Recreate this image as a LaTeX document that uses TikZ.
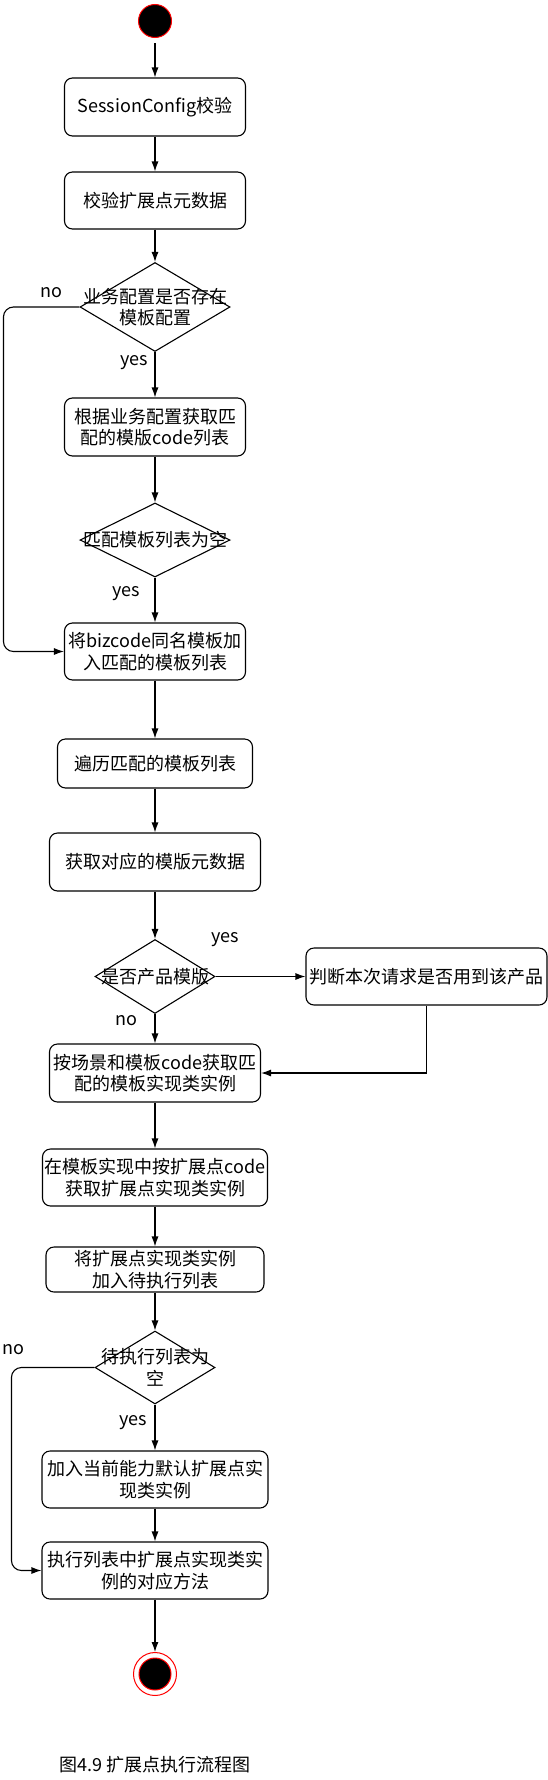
\documentclass[tikz,border=0pt]{standalone}
\usepackage{fontspec}
\setmainfont{Noto Sans CJK SC}
\usetikzlibrary{shapes.geometric,arrows.meta}
\begin{document}
\begin{tikzpicture}[x=1pt,y=1pt,
    font=\fontsize{18}{21.5}\selectfont,
    act/.style={draw, line width=1.1pt, rounded corners=8pt, align=center, inner sep=1pt, minimum height=57pt},
    dec/.style={draw, line width=1.1pt, diamond, inner sep=0pt},
    flow/.style={line width=1.1pt, -{Latex[length=10pt,width=7pt]}},
    lbl/.style={inner sep=0pt}]
  \useasboundingbox (0,0) rectangle (548,-1780);

  \node[circle, fill=black, draw=red, line width=1pt, minimum size=33pt, inner sep=0pt] (start) at (155,-21) {};
  \node[act, minimum width=181pt, minimum height=58pt] (b1) at (155,-107) {SessionConfig校验};
  \node[act, minimum width=181pt] (b2) at (155,-200.5) {校验扩展点元数据};
  \node[dec, minimum width=150pt, minimum height=89pt,
        label={[align=center]center:业务配置是否存在\\模板配置}] (d1) at (155,-307) {};
  \node[act, minimum width=181pt, minimum height=58pt] (b3) at (155,-427) {根据业务配置获取匹\\配的模版code列表};
  \node[dec, minimum width=150pt, minimum height=74pt,
        label={center:匹配模板列表为空}] (d2) at (155,-540) {};
  \node[act, minimum width=181pt] (b4) at (155,-651.5) {将bizcode同名模板加\\入匹配的模板列表};
  \node[act, minimum width=195pt, minimum height=49pt] (b5) at (155,-763.5) {遍历匹配的模板列表};
  \node[act, minimum width=211pt, minimum height=58pt] (b6) at (155,-862) {获取对应的模版元数据};
  \node[dec, minimum width=120pt, minimum height=74pt,
        label={center:是否产品模版}] (d3) at (155,-976.5) {};
  \node[act, minimum width=241pt] (r1) at (426.5,-976.5) {判断本次请求是否用到该产品};
  \node[act, minimum width=211pt, minimum height=58pt] (b7) at (155,-1073) {按场景和模板code获取匹\\配的模板实现类实例};
  \node[act, minimum width=225pt] (b8) at (155,-1177.5) {在模板实现中按扩展点code\\获取扩展点实现类实例};
  \node[act, minimum width=218pt, minimum height=45pt] (b9) at (155,-1269.5) {将扩展点实现类实例\\加入待执行列表};
  \node[dec, minimum width=120pt, minimum height=73pt,
        label={[align=center]center:待执行列表为\\空}] (d4) at (155,-1367.5) {};
  \node[act, minimum width=226pt] (b10) at (155,-1479.5) {加入当前能力默认扩展点实\\现类实例};
  \node[act, minimum width=226pt] (b11) at (155,-1570.5) {执行列表中扩展点实现类实\\例的对应方法};
  \node[circle, draw=red, line width=1pt, fill=white, minimum size=43pt, inner sep=0pt] (end) at (155,-1674) {};
  \node[circle, fill=black, draw=red, line width=1pt, minimum size=32pt, inner sep=0pt] (endin) at (end) {};
  \node (cap) at (155,-1765) {图4.9 扩展点执行流程图};

  \node[lbl] (no1) at (51,-293) {no};
  \node[lbl] (yes1) at (134,-363) {yes};
  \node[lbl] (yes2) at (126,-594) {yes};
  \node[lbl] (yes3) at (225,-940) {yes};
  \node[lbl] (no3) at (126,-1021) {no};
  \node[lbl] (no4) at (13,-1350) {no};
  \node[lbl] (yes4) at (133,-1423) {yes};

  \draw[flow, shorten <=5pt] (start) -- (b1);
  \draw[flow] (b1) -- (b2);
  \draw[flow] (b2) -- (d1);
  \draw[flow] (d1) -- (b3);
  \draw[flow, rounded corners=10pt] (d1.west) -- ++(-76,0) |- (b4.west);
  \draw[flow] (b3) -- (d2);
  \draw[flow] (d2) -- (b4);
  \draw[flow] (b4) -- (b5);
  \draw[flow] (b5) -- (b6);
  \draw[flow] (b6) -- (d3);
  \draw[flow] (d3.east) -- (r1.west);
  \draw[flow] (d3) -- (b7);
  \draw[flow] (r1.south) |- (b7.east);
  \draw[flow] (b7) -- (b8);
  \draw[flow] (b8) -- (b9);
  \draw[flow] (b9) -- (d4);
  \draw[flow] (d4) -- (b10);
  \draw[flow, rounded corners=10pt] (d4.west) -- ++(-83,0) |- (b11.west);
  \draw[flow] (b10) -- (b11);
  \draw[flow] (b11) -- (end);
\end{tikzpicture}
\end{document}
